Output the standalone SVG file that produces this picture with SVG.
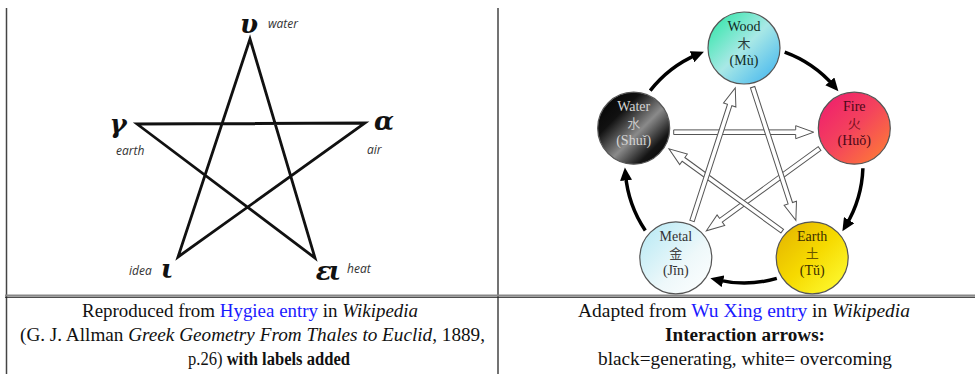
<svg xmlns="http://www.w3.org/2000/svg" xmlns:xlink="http://www.w3.org/1999/xlink" width="975" height="374" viewBox="0 0 975 374">
<style>
.lbl{font-family:"Open Sans","DejaVu Sans",sans-serif;font-style:italic;font-size:12px;fill:#333}
.gk{font-family:"DejaVu Serif",serif;font-weight:bold;font-style:italic;font-size:26px;fill:#111;text-anchor:middle}
.star{fill:none;stroke:#111;stroke-width:2.8;stroke-linejoin:miter;stroke-linecap:round}
.node{stroke:#555;stroke-width:1.2}
.nt{font-family:"Liberation Serif","DejaVu Serif",serif;font-size:14px;text-anchor:middle}
.cjk{font-family:"Noto Sans CJK SC","Noto Sans CJK TC",sans-serif;font-size:13px;text-anchor:middle}
.gen{fill:none;stroke:#000;stroke-width:3.5;marker-end:url(#ah)}
.ov{fill:#fff;stroke:#555;stroke-width:1}
.cap{font-family:"Liberation Serif","Times New Roman",serif;font-size:18px;fill:#111}
.lnk{fill:#1a1aff}
.it{font-style:italic}
.b{font-weight:bold}
.rule{stroke:#444;stroke-width:1.5}
</style>
<defs>
<marker id="ah" markerUnits="userSpaceOnUse" markerWidth="14" markerHeight="12" refX="6" refY="6" orient="auto">
<path d="M0,0 L13,6 L0,12 z" fill="#000"/>
</marker>
<path id="warrow" d="M0,-2.3 L122,-2.3 L122,-6.5 L140,0 L122,6.5 L122,2.3 L0,2.3 z"/>
<linearGradient id="gWood" x1="0" y1="0" x2="1" y2="1">
<stop offset="0" stop-color="#22e6a0"/><stop offset="0.5" stop-color="#a8e8e6"/><stop offset="1" stop-color="#38b0f0"/>
</linearGradient>
<linearGradient id="gFire" x1="0" y1="0" x2="1" y2="1">
<stop offset="0" stop-color="#ee1870"/><stop offset="0.5" stop-color="#f4445c"/><stop offset="1" stop-color="#ff8430"/>
</linearGradient>
<linearGradient id="gEarth" x1="0" y1="0" x2="1" y2="1">
<stop offset="0" stop-color="#e2b000"/><stop offset="0.5" stop-color="#f6da00"/><stop offset="1" stop-color="#ffff3a"/>
</linearGradient>
<linearGradient id="gMetal" x1="0" y1="0" x2="1" y2="1">
<stop offset="0" stop-color="#b2e8f4"/><stop offset="0.6" stop-color="#eef8fa"/><stop offset="1" stop-color="#ffffff"/>
</linearGradient>
<linearGradient id="gWater" x1="0" y1="0" x2="1" y2="1">
<stop offset="0" stop-color="#000"/><stop offset="0.3" stop-color="#111"/><stop offset="0.56" stop-color="#8a8a8a"/><stop offset="0.78" stop-color="#151515"/><stop offset="1" stop-color="#000"/>
</linearGradient>
</defs>

<rect x="0" y="0" width="975" height="374" fill="#fff"/>

<g id="table">
<line class="rule" x1="6.5" y1="8" x2="6.5" y2="374"/>
<line class="rule" x1="498" y1="8" x2="498" y2="374"/>
<line x1="5" y1="295.5" x2="975" y2="295.5" stroke="#888" stroke-width="2"/>
<line x1="5" y1="297.3" x2="975" y2="297.3" stroke="#222" stroke-width="1"/>
</g>

<g id="pentagram">
<path class="star" d="M250,39 L178,257 L365,123 L137,124 L315,258 Z"/>
<text class="gk" x="249" y="33">υ</text>
<text class="lbl" x="268" y="28">water</text>
<text class="gk" x="118" y="133">γ</text>
<text class="lbl" x="116" y="155">earth</text>
<text class="gk" x="384" y="130">α</text>
<text class="lbl" x="367" y="154">air</text>
<text class="gk" x="167" y="278">ι</text>
<text class="lbl" x="129" y="275">idea</text>
<text class="gk" x="327" y="280" letter-spacing="-3">ει</text>
<text class="lbl" x="347" y="273">heat</text>
</g>

<g id="connectors">
<path class="gen" d="M784.7,52.2 A119,119 0 0 1 833.8,85.9"/>
<path class="gen" d="M862.9,168.2 A119,119 0 0 1 846.0,225.3"/>
<path class="gen" d="M776.8,278.4 A119,119 0 0 1 717.2,279.9"/>
<path class="gen" d="M645.3,230.5 A119,119 0 0 1 625.5,174.4"/>
<path class="gen" d="M650.2,90.7 A119,119 0 0 1 697.5,54.4"/>
<use class="ov" xlink:href="#warrow" href="#warrow" transform="translate(673.7,132.2)"/>
<use class="ov" xlink:href="#warrow" href="#warrow" transform="translate(819.6,148.5) rotate(144)"/>
<use class="ov" xlink:href="#warrow" href="#warrow" transform="translate(782.2,231.1) rotate(216)"/>
<use class="ov" xlink:href="#warrow" href="#warrow" transform="translate(692.0,221.0) rotate(-72)"/>
<use class="ov" xlink:href="#warrow" href="#warrow" transform="translate(752.6,87.2) rotate(72)"/>
</g>

<g id="wood">
<circle class="node" cx="744" cy="48" r="36" fill="url(#gWood)"/>
<text class="nt" x="744" y="31" fill="#102a24">Wood</text>
<text class="cjk" x="744" y="48" fill="#2a3a3a">木</text>
<text class="nt" x="744" y="65" fill="#102a24">(Mù)</text>
</g>
<g id="fire">
<circle class="node" cx="854.3" cy="128.2" r="36" fill="url(#gFire)"/>
<text class="nt" x="854.3" y="111" fill="#4a0818">Fire</text>
<text class="cjk" x="854.3" y="128" fill="#7a1020">火</text>
<text class="nt" x="854.3" y="145" fill="#4a0818">(Huǒ)</text>
</g>
<g id="earth">
<circle class="node" cx="812.2" cy="257.8" r="36" fill="url(#gEarth)"/>
<text class="nt" x="812.2" y="241" fill="#3a2c00">Earth</text>
<text class="cjk" x="812.2" y="258" fill="#6a5600">土</text>
<text class="nt" x="812.2" y="275" fill="#3a2c00">(Tǔ)</text>
</g>
<g id="metal">
<circle class="node" cx="675.8" cy="257.8" r="36" fill="url(#gMetal)"/>
<text class="nt" x="675.8" y="241" fill="#333">Metal</text>
<text class="cjk" x="675.8" y="258" fill="#444">金</text>
<text class="nt" x="675.8" y="275" fill="#333">(Jīn)</text>
</g>
<g id="water">
<circle class="node" cx="633.7" cy="128.2" r="36" fill="url(#gWater)"/>
<text class="nt" x="633.7" y="111" fill="#d4d4d4">Water</text>
<text class="cjk" x="633.7" y="128" fill="#c8c8c8">水</text>
<text class="nt" x="633.7" y="145" fill="#d4d4d4">(Shuǐ)</text>
</g>

<g id="captions">
<text class="cap" x="82" y="317" textLength="336" lengthAdjust="spacingAndGlyphs">Reproduced from <tspan class="lnk">Hygiea entry</tspan> in <tspan class="it">Wikipedia</tspan></text>
<text class="cap" x="20" y="341" textLength="465" lengthAdjust="spacingAndGlyphs">(G. J. Allman <tspan class="it">Greek Geometry From Thales to Euclid</tspan>, 1889,</text>
<text class="cap" x="188" y="365" textLength="162" lengthAdjust="spacingAndGlyphs">p.26) <tspan class="b">with labels added</tspan></text>
<text class="cap" x="578" y="317" textLength="332" lengthAdjust="spacingAndGlyphs">Adapted from <tspan class="lnk">Wu Xing entry</tspan> in <tspan class="it">Wikipedia</tspan></text>
<text class="cap b" x="665" y="341" textLength="160" lengthAdjust="spacingAndGlyphs">Interaction arrows:</text>
<text class="cap" x="598" y="365" textLength="294" lengthAdjust="spacingAndGlyphs">black=generating, white= overcoming</text>
</g>
</svg>
